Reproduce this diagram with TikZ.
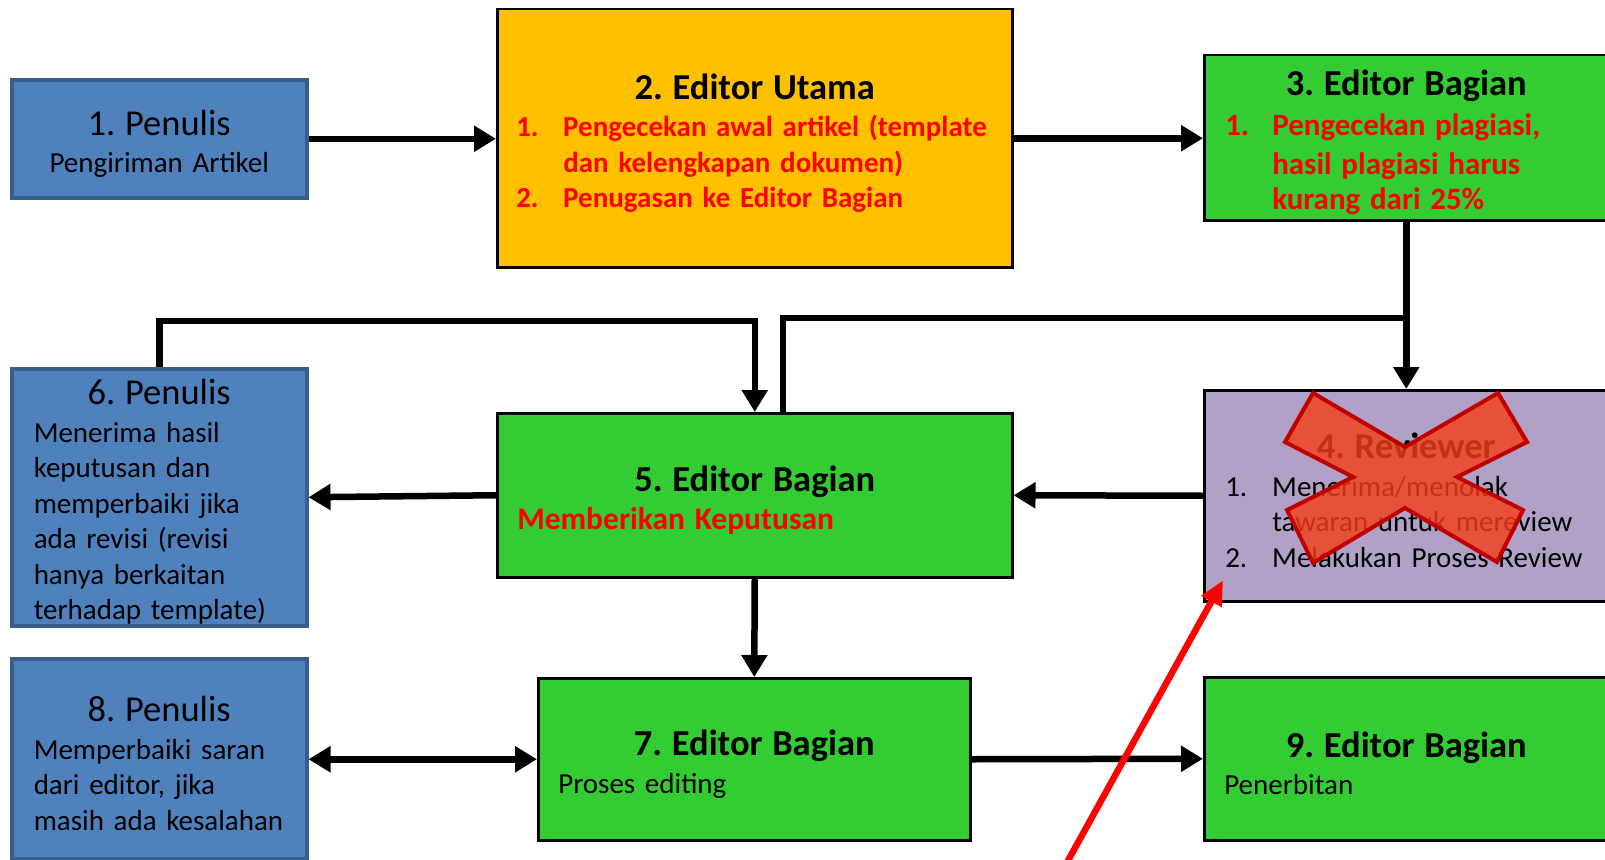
\documentclass[tikz,border=0pt]{standalone}
\usepackage{fontspec}
\setmainfont{Carlito}
\usetikzlibrary{arrows.meta}
\definecolor{penblue}{HTML}{4F81BD}
\definecolor{penedge}{HTML}{385D8A}
\definecolor{utamagold}{HTML}{FFC000}
\definecolor{baggreen}{HTML}{33CC33}
\definecolor{revlilac}{HTML}{B2A1C7}
\definecolor{crossfill}{RGB}{245,61,23}
\definecolor{crossedge}{HTML}{C00000}
\frenchspacing
\newcommand{\bodyfont}{\fontsize{29}{35.5}\selectfont}
\newcommand{\bigbody}{\fontsize{31}{38.3}\selectfont}
\newcommand{\hdr}[1]{{\centering\fontsize{36.5}{40}\selectfont\rule{0pt}{35pt}\bfseries #1\par}\vspace{2pt}}
\newcommand{\hdrplain}[1]{{\centering\fontsize{36.5}{40}\selectfont\rule{0pt}{35pt}#1\par}\vspace{2pt}}
\newcommand{\numbox}[1]{\makebox[47pt][l]{#1}}
\begin{document}
\begin{tikzpicture}[x=1pt,y=-1pt,
   box/.style={draw=black,line width=2.5pt,anchor=north west,inner ysep=0pt,align=left,font=\bodyfont},
   penbox/.style={box,fill=penblue,draw=penedge,line width=3.5pt},
   conn/.style={line width=6.5pt,-{Triangle[length=22pt,width=25pt]}},
   link/.style={line width=6.5pt},
   redarrow/.style={red,line width=6.5pt,-{Triangle[length=24pt,width=22pt]}}]
   \path[use as bounding box,fill=white] (0,0) rectangle (1605,859);
   \node[penbox,align=center,text width=275pt,inner xsep=10pt,minimum height=118pt] (pen1) at (10,78)
      {\hdrplain{1. Penulis}Pengiriman Artikel};
   \node[box,fill=utamagold,text width=477pt,inner xsep=19pt,minimum height=258pt] (utama) at (496,8)
      {\hdr{2. Editor Utama}\color{red}\bfseries
       \numbox{1.}Pengecekan awal artikel (template\\
       \hspace*{47pt}dan kelengkapan dokumen)\\
       \numbox{2.}Penugasan ke Editor Bagian};
   \node[box,fill=baggreen,text width=362pt,inner xsep=21pt,minimum height=165pt] (bag3) at (1203,54)
      {\hdr{3. Editor Bagian}\bigbody\color{red}\bfseries
       \numbox{1.}Pengecekan plagiasi,\\
       \hspace*{47pt}hasil plagiasi harus\\
       \hspace*{47pt}kurang dari 25\%};
   \node[box,fill=revlilac,text width=362pt,inner xsep=21pt,minimum height=211pt] (rev) at (1203,389)
      {\hdr{4. Reviewer}
       \numbox{1.}Menerima/menolak\\
       \hspace*{47pt}tawaran untuk mereview\\
       \numbox{2.}Melakukan Proses Review};
   \node[box,fill=baggreen,text width=475pt,inner xsep=20pt,minimum height=164pt] (bag5) at (496,412)
      {\hdr{5. Editor Bagian}{\fontsize{31.5}{38}\selectfont\color{red}\bfseries Memberikan Keputusan}};
   \node[penbox,text width=251pt,inner xsep=22pt,minimum height=257pt] (pen6) at (10,367)
      {\hdrplain{6. Penulis}Menerima hasil\\ keputusan dan\\ memperbaiki jika\\
       ada revisi (revisi\\ hanya berkaitan\\ terhadap template)};
   \node[box,fill=baggreen,text width=392pt,inner xsep=20pt,minimum height=162pt] (bag7) at (537,677)
      {\hdr{7. Editor Bagian}Proses editing};
   \node[penbox,text width=251pt,inner xsep=22pt,minimum height=200pt] (pen8) at (10,657)
      {\hdrplain{8. Penulis}Memperbaiki saran\\ dari editor, jika\\ masih ada kesalahan};
   \node[box,fill=baggreen,text width=364pt,inner xsep=20pt,minimum height=163pt] (bag9) at (1203,676)
      {\hdr{9. Editor Bagian}Penerbitan};
   \coordinate (split) at (1405,318);
   \coordinate (in5) at ([xshift=28pt]bag5.north);
   \coordinate (redtail) at (1065,866);
   \draw[conn] (pen1.east) -- (utama.west |- pen1.east);
   \draw[conn] (utama.east) -- (bag3.west |- utama.east);
   \draw[conn] (bag3.south) -- (rev.north);
   \draw[link] (split) -| (in5);
   \draw[conn] (pen6.north) -- ++(0,-46) -| (bag5.north);
   \draw[conn] (bag5.west) -- (pen6.east);
   \draw[conn] (rev.west) -- (bag5.east);
   \draw[conn] (bag5.south) -- (bag7.north);
   \draw[line width=6.5pt,{Triangle[length=22pt,width=25pt]}-{Triangle[length=22pt,width=25pt]}] (pen8.east |- bag7.west) -- (bag7.west);
   \draw[conn] (bag7.east) -- (bag9.west);
   \draw[fill=crossfill,fill opacity=0.8,draw=crossedge,line width=4pt,line join=miter]
      (1285,442) -- (1313,393) -- (1405,447) -- (1498,393) -- (1527,442) -- (1457,477)
      -- (1523,510) -- (1497,562) -- (1405,508) -- (1313,563) -- (1287,510) -- (1353,477) -- cycle;
   \draw[redarrow] (redtail) -- ([shift={(20pt,22pt)}]rev.south west);
\end{tikzpicture}
\end{document}
